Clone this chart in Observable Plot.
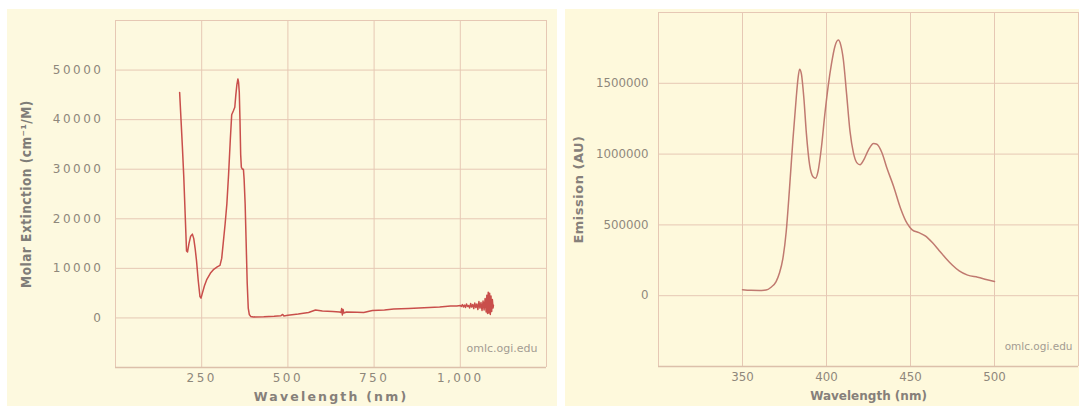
<!DOCTYPE html>
<html>
<head>
<meta charset="utf-8">
<script src="https://cdn.jsdelivr.net/npm/d3@7"></script>
<script src="https://cdn.jsdelivr.net/npm/@observablehq/plot@0.6"></script>
<style>
  html, body { margin: 0; padding: 0; background: #ffffff; }
  body { width: 1079px; height: 406px; position: relative; overflow: hidden; }
  #left { position: absolute; left: 7px; top: 9px; }
  #right { position: absolute; left: 565px; top: 9px; }
  #left g[aria-label="x-axis tick label"] text,
  #left g[aria-label="y-axis tick label"] text {
    font-family: "DejaVu Sans", sans-serif; font-size: 12px; letter-spacing: 2.5px; fill: #8e877b;
  }
  #left g[aria-label="x-axis label"] text {
    font-family: "DejaVu Sans", sans-serif; font-size: 12.5px; font-weight: bold; letter-spacing: 2.2px; fill: #86807a;
  }
  #left g[aria-label="y-axis label"] text {
    font-family: "DejaVu Sans Condensed", "DejaVu Sans", sans-serif; font-size: 13.5px; font-weight: bold; letter-spacing: 0.5px; fill: #7f7d78;
  }
  #right g[aria-label="x-axis tick label"] text,
  #right g[aria-label="y-axis tick label"] text {
    font-family: "DejaVu Sans", sans-serif; font-size: 11.8px; fill: #8e877b;
  }
  #right g[aria-label="x-axis label"] text {
    font-family: "DejaVu Sans", sans-serif; font-size: 12px; font-weight: bold; fill: #86807a;
  }
  #right g[aria-label="y-axis label"] text {
    font-family: "DejaVu Sans", sans-serif; font-size: 13px; font-weight: bold; letter-spacing: 0.5px; fill: #86807a;
  }
  .wm text { font-family: "DejaVu Sans", sans-serif; fill: #a39c92; }
</style>
</head>
<body>
<div id="left"></div>
<div id="right"></div>
<script>
// ---- Left chart: absorption (molar extinction) spectrum ----
const absWavelength = [186,190,194,198,202,206,209,213,218,223,227,231,235,240,245,248,252,258,265,275,285,295,303,308,313,318,323,328,333,337,342,346,349,352,355,357,359,361,363,365,368,371,373,376,379,382,385,388,392,400,430,460,480,485,488,500,530,560,580,590,600,630,650,654,656,658,660,662,670,700,720,745,780,807,850,880,910,940,972,990,1000,1003,1006,1009,1012,1015,1018,1021,1024,1027,1030,1033,1036,1039,1042,1045,1048,1051,1054,1057,1060,1063,1066,1069,1072,1075,1077,1079,1081,1083,1085,1087,1089,1091,1093,1095,1096];
const absExtinction = [45500,40000,34500,28500,21000,13500,13300,15000,16500,16900,16000,14000,11500,7500,4300,4000,5000,6500,7800,9000,9800,10300,10600,12000,15500,19000,23000,29000,36000,41000,41800,42500,45000,47000,48200,47500,45500,40000,33000,30400,30000,30000,28000,23000,15000,7000,2000,700,300,200,250,350,450,700,400,550,800,1100,1600,1500,1400,1300,1200,1100,1900,600,1700,1000,1200,1150,1100,1500,1600,1800,1900,2000,2100,2200,2400,2400,2500,2300,2700,2200,2600,2100,2800,2300,2500,2000,2900,2200,2700,1900,3000,2100,2800,1700,3300,2000,3100,1500,3400,1600,3900,1200,4600,900,5200,1000,5000,700,4400,1300,3700,2000,2600];
const leftXTicks = [250, 500, 750, 1000];
const leftYTicks = [0, 10000, 20000, 30000, 40000, 50000];
const leftXGrid = [0, 250, 500, 750, 1000, 1250];
const leftYGrid = [-10000, 0, 10000, 20000, 30000, 40000, 50000, 60000];

// ---- Right chart: emission spectrum ----
const emWavelength = [350,355,360,364,367,370,372,374,376,378,380,382,383,384,385,386.5,388,390,392,393.5,395,397,399,401,403,405,407,408.5,410,412,414,416,418,420,422,425,428,430,433,436,440,444,448,451,455,459,463,467,471,475,479,484,490,495,500];
const emIntensity = [42000,38000,37000,40000,60000,100000,160000,260000,450000,760000,1100000,1400000,1530000,1600000,1570000,1400000,1150000,920000,840000,830000,880000,1050000,1280000,1480000,1640000,1760000,1805000,1770000,1670000,1420000,1160000,1010000,940000,925000,955000,1030000,1075000,1070000,1010000,900000,770000,620000,510000,465000,445000,420000,375000,320000,265000,215000,175000,145000,130000,115000,100000];
const rightXTicks = [350, 400, 450, 500];
const rightYTicks = [0, 500000, 1000000, 1500000];
const rightXGrid = [300, 350, 400, 450, 500, 550];
const rightYGrid = [-500000, 0, 500000, 1000000, 1500000, 2000000];

const absData = absWavelength.map((w, i) => ({w, v: absExtinction[i]}));
const emData = emWavelength.map((w, i) => ({w, v: emIntensity[i]}));

const gridColor = "#e6c8b4";

const left = Plot.plot({
  width: 550, height: 397,
  marginLeft: 108, marginRight: 11, marginTop: 11, marginBottom: 39,
  style: {background: "#fdf9df", overflow: "visible"},
  x: {domain: [0, 1250]},
  y: {domain: [-10000, 60000]},
  marks: [
    Plot.gridX(leftXGrid, {stroke: gridColor, strokeOpacity: 1, strokeWidth: 1}),
    Plot.gridY(leftYGrid, {stroke: gridColor, strokeOpacity: 1, strokeWidth: 1}),
    Plot.ruleY([-10000], {stroke: "#dcc0aa", strokeWidth: 1.5}),
    Plot.axisX(leftXTicks, {tickSize: 0, tickPadding: 6, tickFormat: d3.format(","), label: "Wavelength (nm)", labelAnchor: "center", labelArrow: "none", labelOffset: 33}),
    Plot.axisY(leftYTicks, {tickSize: 0, tickPadding: 12, tickFormat: d => String(d), label: "Molar Extinction (cm⁻¹/M)", labelAnchor: "center", labelArrow: "none", labelOffset: 94}),
    Plot.lineY(absData, {x: "w", y: "v", stroke: "#c94f4b", strokeWidth: 1.5}),
    Plot.text(["omlc.ogi.edu"], {text: d => d, frameAnchor: "bottom-right", dx: -9, dy: -16, fontSize: 11, className: "wm", style: "letter-spacing:1px"})
  ]
});
document.getElementById("left").appendChild(left);

const right = Plot.plot({
  width: 514, height: 397,
  marginLeft: 93, marginRight: 1, marginTop: 3, marginBottom: 40,
  style: {background: "#fef9dc", overflow: "visible"},
  x: {domain: [300, 550]},
  y: {domain: [-500000, 2000000]},
  marks: [
    Plot.gridX(rightXGrid, {stroke: gridColor, strokeOpacity: 1, strokeWidth: 1}),
    Plot.gridY(rightYGrid, {stroke: gridColor, strokeOpacity: 1, strokeWidth: 1}),
    Plot.ruleY([-500000], {stroke: "#dcc0aa", strokeWidth: 1.5}),
    Plot.axisX(rightXTicks, {tickSize: 0, tickPadding: 6, tickFormat: d => String(d), label: "Wavelength (nm)", labelAnchor: "center", labelArrow: "none", labelOffset: 33}),
    Plot.axisY(rightYTicks, {tickSize: 0, tickPadding: 10, tickFormat: d => String(d), label: "Emission (AU)", labelAnchor: "center", labelArrow: "none", labelOffset: 85}),
    Plot.lineY(emData, {x: "w", y: "v", stroke: "#c07a70", strokeWidth: 1.5, curve: "monotone-x"}),
    Plot.text(["omlc.ogi.edu"], {text: d => d, frameAnchor: "bottom-right", dx: -6, dy: -17, fontSize: 10.5, className: "wm"})
  ]
});
document.getElementById("right").appendChild(right);
</script>
</body>
</html>
